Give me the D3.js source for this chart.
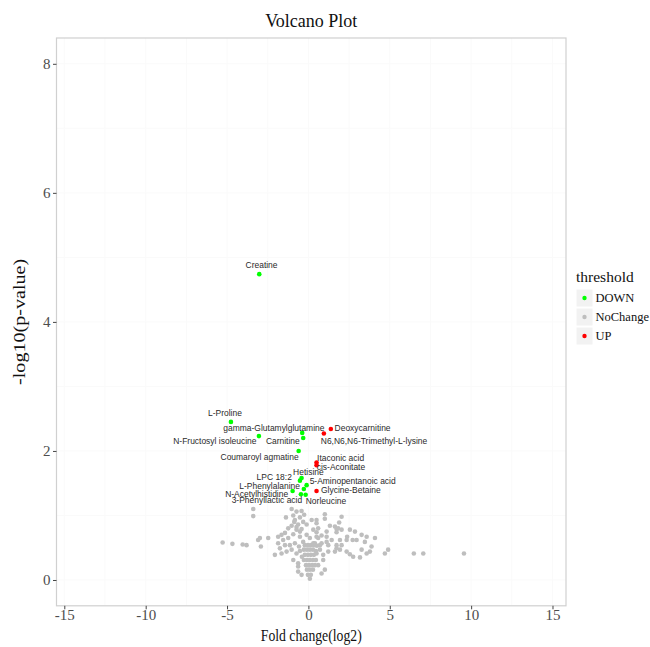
<!DOCTYPE html>
<html>
<head>
<meta charset="utf-8">
<script src="https://cdn.jsdelivr.net/npm/d3@7"></script>
<style>
  html, body { margin: 0; padding: 0; background: #fff; }
  svg { display: block; }
</style>
</head>
<body>
<svg id="chart" width="650" height="647"></svg>
<script>
// ---------------- DATA ----------------
const title = "Volcano Plot";
const xTitle = "Fold change(log2)";
const yTitle = "-log10(p-value)";
const legendTitle = "threshold";
const groups = ["DOWN", "NoChange", "UP"];
const groupColors = ["#00FF00", "#BEBEBE", "#FF0000"];
const xTicks = [-15, -10, -5, 0, 5, 10, 15];
const yTicks = [0, 2, 4, 6, 8];

// labelled significant metabolites: [name, log2FC, -log10 p, label x, label y]
const downPoints = [
  ["Creatine", -3.02, 4.74, -2.88, 4.88],
  ["L-Proline", -4.76, 2.45, -5.13, 2.59],
  ["gamma-Glutamylglutamine", -0.38, 2.28, -2.12, 2.36],
  ["N-Fructosyl isoleucine", -3.04, 2.23, -5.75, 2.16],
  ["Carnitine", -0.32, 2.20, -1.57, 2.16],
  ["Coumaroyl agmatine", -0.60, 2.00, -3.00, 1.90],
  ["Hetisine", -0.42, 1.58, 0.00, 1.68],
  ["LPC 18:2", -0.52, 1.54, -2.10, 1.59],
  ["5-Aminopentanoic acid", -0.11, 1.47, 2.72, 1.54],
  ["L-Phenylalanine", -0.28, 1.41, -2.38, 1.46],
  ["N-Acetylhistidine", -0.97, 1.38, -3.18, 1.34],
  ["3-Phenyllactic acid", -0.46, 1.33, -2.55, 1.24],
  ["Norleucine", -0.17, 1.32, 1.08, 1.22]
];
const upPoints = [
  ["Deoxycarnitine", 1.38, 2.34, 3.33, 2.36],
  ["N6,N6,N6-Trimethyl-L-lysine", 0.95, 2.27, 4.03, 2.16],
  ["Itaconic acid", 0.50, 1.82, 1.98, 1.89],
  ["cis-Aconitate", 0.50, 1.78, 2.00, 1.75],
  ["Glycine-Betaine", 0.50, 1.38, 2.61, 1.40]
];
// non-significant metabolites: [log2FC, -log10 p]
const noChangePoints = [
  [-5.27,0.58],[-4.67,0.56],[-4.04,0.55],[-3.80,0.54],[-3.39,1.10],[-3.39,0.99],
  [-3.09,0.62],[-2.98,0.65],[-2.92,0.52],[-2.47,0.65],[-2.06,0.39],[-1.86,0.67],
  [-1.86,0.57],[-1.75,0.49],[-1.65,0.70],[-1.55,0.62],[-1.44,0.73],[-1.38,0.97],
  [-1.34,0.44],[-1.24,0.80],[-1.24,0.65],[-1.65,0.41],[-1.44,0.54],[-1.14,0.54],
  [-1.03,1.10],[-1.03,0.84],[-1.03,0.47],[-0.93,1.00],[-0.93,0.71],[-0.93,0.31],
  [-0.87,0.90],[-0.83,0.93],[-0.83,0.57],[-0.73,1.06],[-0.73,0.82],[-0.73,0.78],
  [-0.73,0.41],[-0.63,0.86],[-0.63,0.26],[-0.63,0.21],[-0.63,0.13],[-0.58,0.52],
  [-0.52,0.97],[-0.52,0.75],[-0.52,0.67],[-0.42,1.07],[-0.42,0.79],[-0.42,0.08],
  [-0.32,0.90],[-0.32,0.59],[-0.26,1.01],[-0.11,0.86],[-0.11,0.70],[0.09,0.65],
  [0.20,0.93],[0.30,0.78],[0.30,0.57],[0.40,0.57],[0.50,0.93],[0.50,0.88],
  [0.50,0.74],[0.50,0.67],[0.50,0.41],[0.60,0.80],[0.60,0.65],[0.60,0.23],
  [0.71,0.54],[0.71,0.47],[0.81,0.69],[0.81,0.57],[0.81,0.10],[0.91,0.39],
  [0.91,0.31],[1.01,1.02],[1.01,0.95],[1.01,0.16],[1.12,0.75],[1.12,0.67],
  [1.12,0.59],[1.22,0.54],[1.22,0.44],[1.32,0.84],[1.43,0.62],[1.63,0.83],
  [1.63,0.44],[1.73,0.79],[1.73,0.74],[1.73,0.54],[1.73,0.49],[1.83,0.80],
  [1.89,0.89],[1.94,0.62],[1.94,0.47],[2.04,0.98],[2.04,0.78],[2.04,0.54],
  [2.35,0.62],[2.35,0.44],[2.38,0.67],[2.55,0.78],[2.55,0.40],[2.72,0.62],
  [2.75,0.36],[2.86,0.75],[2.96,0.62],[3.17,0.35],[3.27,0.70],[3.27,0.47],
  [3.47,0.59],[3.58,0.67],[3.58,0.41],[3.78,0.44],[3.88,0.52],[4.09,0.65],
  [4.70,0.41],[4.90,0.47],[6.48,0.41],[7.06,0.41],[9.56,0.41],
  [-0.22,0.54],[-0.03,0.54],[0.15,0.54],[0.34,0.54],[0.52,0.53],
  [-0.28,0.47],[-0.09,0.47],[0.09,0.47],[0.28,0.47],[0.46,0.45],
  [-0.22,0.39],[-0.03,0.39],[0.15,0.39],[0.34,0.39],
  [-0.28,0.31],[-0.09,0.31],[0.09,0.31],[0.28,0.31],[0.46,0.31],
  [-0.15,0.23],[0.03,0.23],[0.22,0.23],[0.40,0.23],
  [-0.09,0.16],[0.09,0.16],[0.28,0.16],[-0.03,0.08],[0.15,0.08],[0.09,0.02],
  [-0.40,0.36],[-0.52,0.45]
];
const xDomain = [-15.48, 15.83];
const yDomain = [-0.4, 8.4];

// ---------------- DRAW ----------------
const svg = d3.select("#chart");
const margin = {left: 56.5, right: 566, top: 38, bottom: 605.8};
const x = d3.scaleLinear().domain(xDomain).range([margin.left, margin.right]);
const y = d3.scaleLinear().domain(yDomain).range([margin.bottom, margin.top]);
const color = d3.scaleOrdinal().domain(groups).range(groupColors);

const serif = "'Liberation Serif', 'Times New Roman', serif";
const sans = "'Liberation Sans', Arial, sans-serif";

// very faint grid
const grid = svg.append("g");
const xMinor = [-12.5, -7.5, -2.5, 2.5, 7.5, 12.5];
const yMinor = [1, 3, 5, 7];
grid.selectAll(".gx").data(xTicks.concat(xMinor)).join("line")
  .attr("x1", d => x(d)).attr("x2", d => x(d))
  .attr("y1", margin.top).attr("y2", margin.bottom)
  .attr("stroke", "#fafafa").attr("stroke-width", 1);
grid.selectAll(".gy").data(yTicks.concat(yMinor)).join("line")
  .attr("y1", d => y(d)).attr("y2", d => y(d))
  .attr("x1", margin.left).attr("x2", margin.right)
  .attr("stroke", "#fafafa").attr("stroke-width", 1);

// panel border
svg.append("rect")
  .attr("x", margin.left).attr("y", margin.top)
  .attr("width", margin.right - margin.left)
  .attr("height", margin.bottom - margin.top)
  .attr("fill", "none").attr("stroke", "#d0d0d0").attr("stroke-width", 1.2);

// axes
const fmt = d => String(d);
const xAxis = svg.append("g")
  .attr("transform", `translate(0,${margin.bottom})`)
  .call(d3.axisBottom(x).tickValues(xTicks).tickSize(3.5).tickPadding(0.5).tickFormat(fmt));
const yAxis = svg.append("g")
  .attr("transform", `translate(${margin.left},0)`)
  .call(d3.axisLeft(y).tickValues(yTicks).tickSize(3.5).tickPadding(2.5).tickFormat(fmt));
[xAxis, yAxis].forEach(a => {
  a.select(".domain").remove();
  a.selectAll(".tick line").attr("stroke", "#444");
  a.selectAll(".tick text").attr("fill", "#4d4d4d")
    .style("font-family", serif).style("font-size", "15px");
});

// points
const plot = svg.append("g");
plot.selectAll(".nc").data(noChangePoints).join("circle")
  .attr("cx", d => x(d[0])).attr("cy", d => y(d[1])).attr("r", 2.3)
  .attr("fill", color("NoChange"));
plot.selectAll(".dn").data(downPoints).join("circle")
  .attr("cx", d => x(d[1])).attr("cy", d => y(d[2])).attr("r", 2.3)
  .attr("fill", color("DOWN"));
plot.selectAll(".up").data(upPoints).join("circle")
  .attr("cx", d => x(d[1])).attr("cy", d => y(d[2])).attr("r", 2.3)
  .attr("fill", color("UP"));

// labels (slightly condensed, like the reference)
const labels = svg.append("g").selectAll("text").data(downPoints.concat(upPoints)).join("text")
  .attr("x", d => x(d[3])).attr("y", d => y(d[4]))
  .attr("text-anchor", "middle").attr("dominant-baseline", "central")
  .style("font-family", sans).style("font-size", "9.3px").attr("fill", "#2a2a2a")
  .text(d => d[0]);
labels.each(function() {
  const len = this.getComputedTextLength();
  d3.select(this).attr("textLength", len * 0.91).attr("lengthAdjust", "spacingAndGlyphs");
});

// titles
svg.append("text").attr("x", (margin.left + margin.right) / 2).attr("y", 27)
  .attr("text-anchor", "middle").style("font-family", serif).style("font-size", "18px")
  .attr("fill", "#111").text(title);
svg.append("text").attr("x", (margin.left + margin.right) / 2).attr("y", 641)
  .attr("text-anchor", "middle").style("font-family", serif).style("font-size", "16px")
  .attr("textLength", 101).attr("lengthAdjust", "spacingAndGlyphs")
  .attr("fill", "#111").text(xTitle);
svg.append("text")
  .attr("transform", `translate(25,${(margin.top + margin.bottom) / 2}) rotate(-90)`)
  .attr("text-anchor", "middle").style("font-family", serif).style("font-size", "17px")
  .attr("textLength", 126).attr("lengthAdjust", "spacingAndGlyphs")
  .attr("fill", "#111").text(yTitle);

// legend
const lg = svg.append("g").attr("transform", "translate(576,0)");
lg.append("text").attr("x", 0).attr("y", 282)
  .style("font-family", serif).style("font-size", "15.5px").attr("fill", "#111").text(legendTitle);
const keys = lg.selectAll(".key").data(groups).join("g")
  .attr("transform", (d, i) => `translate(0,${289 + i * 19})`);
keys.append("rect").attr("width", 17).attr("height", 18)
  .attr("fill", "#f2f2f2").attr("stroke", "#fff").attr("stroke-width", 1);
keys.append("circle").attr("cx", 8.5).attr("cy", 9).attr("r", 2.2)
  .attr("fill", d => color(d));
keys.append("text").attr("x", 19.5).attr("y", 9).attr("dominant-baseline", "central")
  .style("font-family", serif).style("font-size", "12.5px").attr("fill", "#111")
  .text(d => d);
</script>
</body>
</html>
